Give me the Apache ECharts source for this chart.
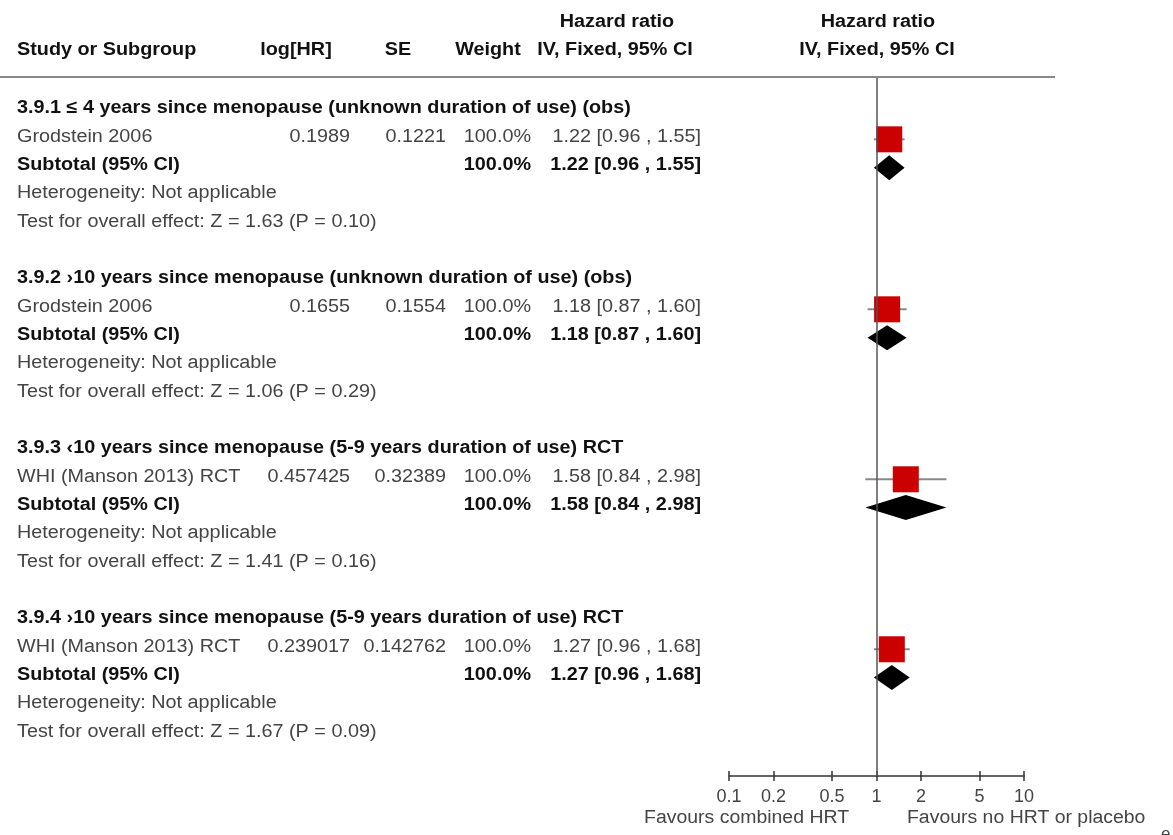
<!DOCTYPE html>
<html>
<head>
<meta charset="utf-8">
<script src="https://cdn.jsdelivr.net/npm/echarts@6/dist/echarts.min.js"></script>
<style>html,body{margin:0;padding:0;background:#fff}#c{width:1173px;height:835px}</style>
</head>
<body>
<div id="c"></div>
<script>
// ---------- data ----------
const groupTitles = [
  '3.9.1 \u2264 4 years since menopause (unknown duration of use) (obs)',
  '3.9.2 \u203a10 years since menopause (unknown duration of use) (obs)',
  '3.9.3 \u203910 years since menopause (5-9 years duration of use) RCT',
  '3.9.4 \u203a10 years since menopause (5-9 years duration of use) RCT'
];
const studyNames = ['Grodstein 2006', 'Grodstein 2006', 'WHI (Manson 2013) RCT', 'WHI (Manson 2013) RCT'];
const logHR = ['0.1989', '0.1655', '0.457425', '0.239017'];
const seVals = ['0.1221', '0.1554', '0.32389', '0.142762'];
const weights = ['100.0%', '100.0%', '100.0%', '100.0%'];
const studyHR = [1.22, 1.18, 1.58, 1.27];
const studyLow = [0.96, 0.87, 0.84, 0.96];
const studyHigh = [1.55, 1.60, 2.98, 1.68];
const subHR = [1.22, 1.18, 1.58, 1.27];
const subLow = [0.96, 0.87, 0.84, 0.96];
const subHigh = [1.55, 1.60, 2.98, 1.68];
const subWeights = ['100.0%', '100.0%', '100.0%', '100.0%'];
const hetTexts = ['Heterogeneity: Not applicable', 'Heterogeneity: Not applicable', 'Heterogeneity: Not applicable', 'Heterogeneity: Not applicable'];
const effectTexts = [
  'Test for overall effect: Z = 1.63 (P = 0.10)',
  'Test for overall effect: Z = 1.06 (P = 0.29)',
  'Test for overall effect: Z = 1.41 (P = 0.16)',
  'Test for overall effect: Z = 1.67 (P = 0.09)'
];
const tickValues = [0.1, 0.2, 0.5, 1, 2, 5, 10];
const tickLabels = ['0.1', '0.2', '0.5', '1', '2', '5', '10'];
const leftFavour = 'Favours combined HRT';
const rightFavour = 'Favours no HRT or placebo';

// ---------- layout ----------
const W = 1173, H = 835;
const ROW_H = 28.33, ROW0_Y = 108.5;     // pixel y of text row 0 and row pitch
const MARK_Y0 = 111;                     // pixel y of mark row 0
const ROWS_PER_GROUP = 6;
const PLOT_L = 729, PLOT_R = 1024, PLOT_T = 78, PLOT_B = 776;
const FONT = '"Liberation Sans", Arial, sans-serif';
const SX = 1.10;          // horizontal text stretch
const FS = 18;
const COL = { name: 17, log: 350, se: 446, weight: 531, ci: 701 };

const fmtCI = (h, l, u) => h.toFixed(2) + ' [' + l.toFixed(2) + ' , ' + u.toFixed(2) + ']';

// text items: [x, row, text, align, bold]
const texts = [];
for (let g = 0; g < groupTitles.length; g++) {
  const r = g * ROWS_PER_GROUP;
  texts.push([COL.name, r, groupTitles[g], 'left', 1]);
  texts.push([COL.name, r + 1, studyNames[g], 'left', 0]);
  texts.push([COL.log, r + 1, logHR[g], 'right', 0]);
  texts.push([COL.se, r + 1, seVals[g], 'right', 0]);
  texts.push([COL.weight, r + 1, weights[g], 'right', 0]);
  texts.push([COL.ci, r + 1, fmtCI(studyHR[g], studyLow[g], studyHigh[g]), 'right', 0]);
  texts.push([COL.name, r + 2, 'Subtotal (95% CI)', 'left', 1]);
  texts.push([COL.weight, r + 2, subWeights[g], 'right', 1]);
  texts.push([COL.ci, r + 2, fmtCI(subHR[g], subLow[g], subHigh[g]), 'right', 1]);
  texts.push([COL.name, r + 3, hetTexts[g], 'left', 0]);
  texts.push([COL.name, r + 4, effectTexts[g], 'left', 0]);
}
// headers (rows above the table)
texts.push([617, -3.05, 'Hazard ratio', 'center', 1]);
texts.push([878, -3.05, 'Hazard ratio', 'center', 1]);
texts.push([COL.name, -2.05, 'Study or Subgroup', 'left', 1]);
texts.push([296, -2.05, 'log[HR]', 'center', 1]);
texts.push([398, -2.05, 'SE', 'center', 1]);
texts.push([488, -2.05, 'Weight', 'center', 1]);
texts.push([615, -2.05, 'IV, Fixed, 95% CI', 'center', 1]);
texts.push([877, -2.05, 'IV, Fixed, 95% CI', 'center', 1]);

// forest marks: [log10(hr), row, log10(lo), log10(hi), kind] kind 0=study 1=subtotal
const marks = [];
for (let g = 0; g < studyHR.length; g++) {
  const r = g * ROWS_PER_GROUP;
  marks.push([Math.log10(studyHR[g]), r + 1, Math.log10(studyLow[g]), Math.log10(studyHigh[g]), 0]);
  marks.push([Math.log10(subHR[g]), r + 2, Math.log10(subLow[g]), Math.log10(subHigh[g]), 1]);
}

const chart = echarts.init(document.getElementById('c'), null, { renderer: 'canvas' });
const tickLog = tickValues.map(v => Math.log10(v));

chart.setOption({
  animation: false,
  backgroundColor: '#fff',
  grid: [
    { left: 0, top: 0, width: W, height: H },
    { left: PLOT_L, top: PLOT_T, width: PLOT_R - PLOT_L, height: PLOT_B - PLOT_T }
  ],
  xAxis: [
    { gridIndex: 0, type: 'value', min: 0, max: W, show: false },
    {
      gridIndex: 1, type: 'value', min: -1, max: 1, position: 'bottom',
      axisLine: { show: true, onZero: false, lineStyle: { color: '#333', width: 1.5 } },
      axisTick: { show: true, customValues: tickLog, length: 5, lineStyle: { color: '#333', width: 1.5 } },
      axisLabel: {
        show: true, customValues: tickLog, margin: 12, color: '#444', fontSize: 18, fontFamily: FONT,
        formatter: v => {
          let best = 0;
          tickLog.forEach((t, i) => { if (Math.abs(t - v) < Math.abs(tickLog[best] - v)) best = i; });
          return tickLabels[best];
        }
      },
      splitLine: { show: false }
    },
    {
      gridIndex: 1, type: 'value', min: -1, max: 1, position: 'bottom', offset: 0,
      axisLine: { show: false, onZero: false },
      axisTick: { show: true, inside: true, customValues: tickLog, length: 5, lineStyle: { color: '#333', width: 1.5 } },
      axisLabel: { show: false },
      splitLine: { show: false }
    }
  ],
  yAxis: [
    { gridIndex: 0, type: 'value', inverse: true, min: -ROW0_Y / ROW_H, max: (H - ROW0_Y) / ROW_H, show: false },
    { gridIndex: 1, type: 'value', inverse: true, min: (PLOT_T - MARK_Y0) / ROW_H, max: (PLOT_B - MARK_Y0) / ROW_H, show: false }
  ],
  graphic: [
    { type: 'line', shape: { x1: 0, y1: 77, x2: 1055, y2: 77 }, style: { stroke: '#888', lineWidth: 2 }, z: 10 },
    { type: 'text', x: 849, y: 818, scaleX: 1.08, style: { text: leftFavour, align: 'right', verticalAlign: 'middle', fill: '#444', font: '18px ' + FONT } },
    { type: 'text', x: 907, y: 818, scaleX: 1.08, style: { text: rightFavour, align: 'left', verticalAlign: 'middle', fill: '#444', font: '18px ' + FONT } },
    { type: 'text', x: 1161, y: 834, style: { text: 'e', align: 'left', verticalAlign: 'middle', fill: '#444', font: '17px ' + FONT } }
  ],
  series: [
    {
      type: 'custom', xAxisIndex: 0, yAxisIndex: 0, silent: true,
      data: texts,
      renderItem: (params, api) => {
        const t = texts[params.dataIndex];
        const p = api.coord([t[0], t[1]]);
        return {
          type: 'text', x: p[0], y: p[1], scaleX: SX,
          style: {
            text: t[2], x: 0, y: 0, align: t[3], verticalAlign: 'middle',
            fill: t[4] ? '#111' : '#444',
            font: (t[4] ? 'bold ' : '') + FS + 'px ' + FONT
          }
        };
      }
    },
    {
      type: 'custom', xAxisIndex: 1, yAxisIndex: 1, silent: true, clip: false,
      data: marks,
      renderItem: (params, api) => {
        const c = api.coord([api.value(0), api.value(1)]);
        const lo = api.coord([api.value(2), api.value(1)]);
        const hi = api.coord([api.value(3), api.value(1)]);
        if (api.value(4) === 0) {
          const s = 26;
          return {
            type: 'group', children: [
              { type: 'line', shape: { x1: lo[0], y1: c[1], x2: hi[0], y2: c[1] }, style: { stroke: '#888', lineWidth: 2 } },
              { type: 'rect', shape: { x: c[0] - s / 2, y: c[1] - s / 2, width: s, height: s }, style: { fill: '#CC0000' } }
            ]
          };
        }
        const h = 12.5;
        return {
          type: 'polygon',
          shape: { points: [[lo[0], c[1]], [c[0], c[1] - h], [hi[0], c[1]], [c[0], c[1] + h]] },
          style: { fill: '#000' }
        };
      },
      markLine: {
        silent: true, symbol: 'none', label: { show: false },
        lineStyle: { color: '#555', width: 1.5, type: 'solid' },
        data: [{ xAxis: 0 }]
      }
    }
  ]
});
</script>
</body>
</html>
